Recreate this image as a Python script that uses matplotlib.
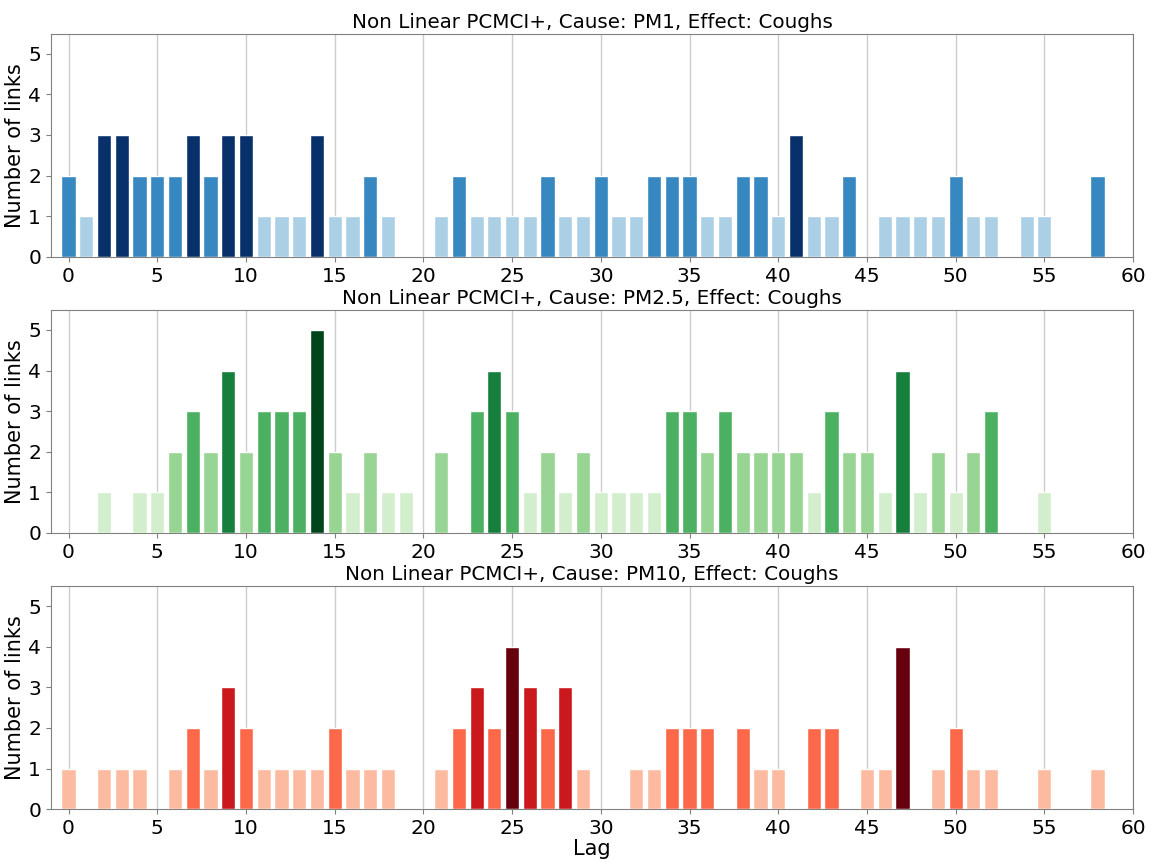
import matplotlib
matplotlib.use("Agg")
import matplotlib.pyplot as plt
import numpy as np

# number of significant links per lag, one list per pollutant
pm1_links = [2, 1, 3, 3, 2, 2, 2, 3, 2, 3, 3, 1, 1, 1, 3, 1, 1, 2, 1, 0,
             0, 1, 2, 1, 1, 1, 1, 2, 1, 1, 2, 1, 1, 2, 2, 2, 1, 1, 2, 2,
             1, 3, 1, 1, 2, 0, 1, 1, 1, 1, 2, 1, 1, 0, 1, 1, 0, 0, 2]
pm25_links = [0, 0, 1, 0, 1, 1, 2, 3, 2, 4, 2, 3, 3, 3, 5, 2, 1, 2, 1, 1,
              0, 2, 0, 3, 4, 3, 1, 2, 1, 2, 1, 1, 1, 1, 3, 3, 2, 3, 2, 2,
              2, 2, 1, 3, 2, 2, 1, 4, 1, 2, 1, 2, 3, 0, 0, 1]
pm10_links = [1, 0, 1, 1, 1, 0, 1, 2, 1, 3, 2, 1, 1, 1, 1, 2, 1, 1, 1, 0,
              0, 1, 2, 3, 2, 4, 3, 2, 3, 1, 0, 0, 1, 1, 2, 2, 2, 0, 2, 1,
              1, 0, 2, 2, 0, 1, 1, 4, 0, 1, 2, 1, 1, 0, 0, 1, 0, 0, 1]

causes = ["PM1", "PM2.5", "PM10"]
cmaps = ["Blues", "Greens", "Reds"]
series = [pm1_links, pm25_links, pm10_links]

fig, axes = plt.subplots(3, 1, figsize=(11.55, 8.59), dpi=100)
fig.subplots_adjust(left=0.044, right=0.981, top=0.961, bottom=0.058, hspace=0.237)

for ax, cause, cmap_name, links in zip(axes, causes, cmaps, series):
    links = np.array(links)
    lags = np.arange(len(links))
    cmap = plt.get_cmap(cmap_name)
    # shade each bar by its count relative to the panel maximum
    colors = cmap(links / links.max())
    ax.bar(lags, links, width=0.8, color=colors, edgecolor="white", linewidth=1, zorder=3)
    ax.set_xlim(-1, 60)
    ax.set_ylim(0, 5.5)
    ax.set_xticks(np.arange(0, 61, 5))
    ax.set_yticks(np.arange(0, 6))
    ax.grid(axis="x", color="#cccccc", linewidth=1, zorder=0)
    ax.tick_params(labelsize=14.5, color="#808080")
    for s in ax.spines.values():
        s.set_color("#808080")
    ax.set_title(f"Non Linear PCMCI+, Cause: {cause}, Effect: Coughs", fontsize=14.3, pad=4)
    ax.set_ylabel("Number of links", fontsize=15, labelpad=2)

axes[-1].set_xlabel("Lag", fontsize=15, labelpad=1)

fig.savefig("out.png", dpi=100)
